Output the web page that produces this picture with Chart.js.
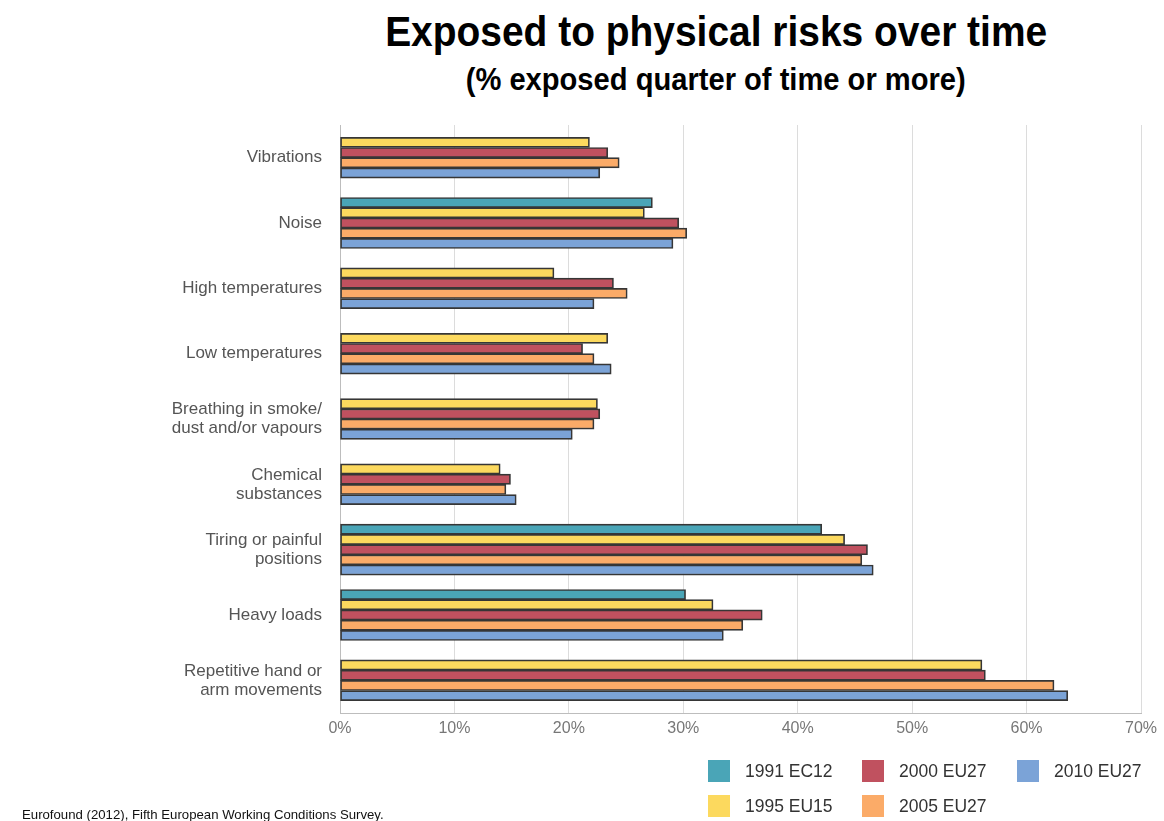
<!DOCTYPE html>
<html>
<head>
<meta charset="utf-8">
<script src="https://cdn.jsdelivr.net/npm/chart.js@4.4.0/dist/chart.umd.min.js"></script>
<style>
  body { margin: 0; background: #fff; width: 1164px; height: 821px; overflow: hidden; position: relative; }
  #wrap { position: absolute; left: 0; top: 0; width: 1164px; height: 821px; }
  .title { position: absolute; left: 316px; width: 800px; text-align: center; color: #000;
           font-family: "Liberation Sans", Arial, sans-serif; font-weight: bold; white-space: nowrap; }
  .title span { display: inline-block; transform-origin: center; }
  #t1 { top: 11px; font-size: 42px; line-height: 42px; }
  #t2 { top: 63px; font-size: 32px; line-height: 32px; }
  #source { position: absolute; left: 22px; top: 807px; font-size: 13.2px; color: #111; white-space: nowrap;
            font-family: "Liberation Sans", Arial, sans-serif; }
  #legend { position: absolute; left: 708px; top: 760px; display: grid;
            grid-template-columns: 154px 155px 150px; grid-auto-flow: column; grid-template-rows: 35px 35px;
            font-family: "Liberation Sans", Arial, sans-serif; font-size: 17.5px; color: #333; }
  .item { display: flex; align-items: center; height: 22px; white-space: nowrap; }
  .box { width: 22px; height: 22px; margin-right: 15px; flex: none; }
</style>
</head>
<body>
<div id="t1" class="title"><span data-w="662">Exposed to physical risks over time</span></div>
<div id="t2" class="title"><span data-w="500">(% exposed quarter of time or more)</span></div>
<div id="wrap"><canvas id="chart" width="1164" height="821"></canvas></div>
<div id="legend"></div>
<div id="source">Eurofound (2012), Fifth European Working Conditions Survey.</div>
<script>
// categories, top to bottom
const categories = [
  ['Vibrations'],
  ['Noise'],
  ['High temperatures'],
  ['Low temperatures'],
  ['Breathing in smoke/', 'dust and/or vapours'],
  ['Chemical', 'substances'],
  ['Tiring or painful', 'positions'],
  ['Heavy loads'],
  ['Repetitive hand or', 'arm movements']
];

const seriesNames = ['1991 EC12', '1995 EU15', '2000 EU27', '2005 EU27', '2010 EU27'];
const seriesColors = ['#4aa5b7', '#fcd95e', '#c0515f', '#fbab68', '#7ba3d7'];

// % exposed
const ec1991 = [null, 27.3, null, null, null, null, 42.1, 30.2, null];
const eu1995 = [21.8, 26.6, 18.7, 23.4, 22.5, 14.0, 44.1, 32.6, 56.1];
const eu2000 = [23.4, 29.6, 23.9, 21.2, 22.7, 14.9, 46.1, 36.9, 56.4];
const eu2005 = [24.4, 30.3, 25.1, 22.2, 22.2, 14.5, 45.6, 35.2, 62.4];
const eu2010 = [22.7, 29.1, 22.2, 23.7, 20.3, 15.4, 46.6, 33.5, 63.6];

const xTicks = [0, 10, 20, 30, 40, 50, 60, 70];

// squeeze the bold titles to the narrow look of the original
document.querySelectorAll('.title span').forEach(function (s) {
  var w = s.getBoundingClientRect().width;
  s.style.transform = 'scaleX(' + (parseFloat(s.dataset.w) / w) + ')';
});

const allSeries = [ec1991, eu1995, eu2000, eu2005, eu2010];
const datasets = allSeries.map(function (vals, i) {
  return {
    label: seriesNames[i],
    data: vals,
    backgroundColor: seriesColors[i],
    borderColor: '#363636',
    borderWidth: 1.7,
    borderSkipped: false,
    barThickness: 10.2
  };
});

var ctx = document.getElementById('chart');
var myChart = new Chart(ctx, {
  type: 'bar',
  data: { labels: categories, datasets: datasets },
  options: {
    indexAxis: 'y',
    responsive: false,
    animation: false,
    skipNull: true,
    layout: { padding: { left: 0, right: 23, top: 125, bottom: 78 } },
    plugins: { legend: { display: false }, tooltip: { enabled: false } },
    scales: {
      x: {
        min: 0, max: 70,
        afterBuildTicks: function (scale) { scale.ticks = xTicks.map(function (v) { return { value: v }; }); },
        afterFit: function (scale) { scale.height = 30; },
        ticks: {
          callback: function (v) { return v + '%'; },
          color: '#777', font: { family: 'Liberation Sans', size: 16 }, padding: 6
        },
        grid: { color: '#dcdcdc', drawTicks: false },
        border: { color: '#bdbdbd' }
      },
      y: {
        afterFit: function (scale) { scale.width = 340; },
        ticks: {
          color: '#555', font: { family: 'Liberation Sans', size: 17, lineHeight: 1.12 }, padding: 18
        },
        grid: { display: false, drawTicks: false },
        border: { color: '#bdbdbd' }
      }
    }
  }
});

// legend, filled column by column like the original
var legend = document.getElementById('legend');
myChart.data.datasets.forEach(function (ds) {
  var item = document.createElement('div');
  item.className = 'item';
  var box = document.createElement('span');
  box.className = 'box';
  box.style.background = ds.backgroundColor;
  item.appendChild(box);
  item.appendChild(document.createTextNode(ds.label));
  legend.appendChild(item);
});
</script>
</body>
</html>
